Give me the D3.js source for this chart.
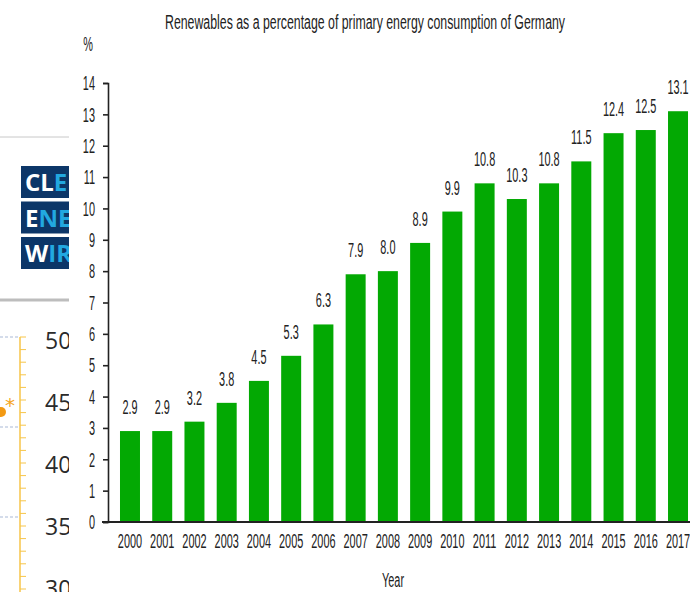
<!DOCTYPE html>
<html>
<head>
<meta charset="utf-8">
<script src="https://cdn.jsdelivr.net/npm/d3@7"></script>
<style>
  html, body { margin: 0; padding: 0; background: #fff; }
  svg { display: block; }
</style>
</head>
<body>
<svg id="chart"></svg>
<script>
var years = ["2000", "2001", "2002", "2003", "2004", "2005", "2006", "2007", "2008",
    "2009", "2010", "2011", "2012", "2013", "2014", "2015", "2016", "2017"];
var shares = [2.9, 2.9, 3.2, 3.8, 4.5, 5.3, 6.3, 7.9, 8.0, 8.9, 9.9, 10.8, 10.3, 10.8, 11.5, 12.4, 12.5, 13.1];
var yTicks = [0, 1, 2, 3, 4, 5, 6, 7, 8, 9, 10, 11, 12, 13, 14];

// pieces of the pictures lying behind the chart (left edge)
var logoRows = [["CL", "E"], ["E", "NE"], ["W", "IR"]];
var behindLabels = ["50", "45", "40", "35", "30"];

var width = 690, height = 592;
var margin = { left: 108, top: 83, bottom: 70 };
var squeeze = "scale(0.52,1)"; // the source font is very condensed
var fs = 21;

var svg = d3.select("#chart").attr("width", width).attr("height", height);

// ---- background fragments
var bg = svg.append("g");
bg.append("line").attr("x1", 0).attr("x2", 69).attr("y1", 137).attr("y2", 137)
    .attr("stroke", "#c8c8c8").attr("stroke-width", 1);
logoRows.forEach(function (r, i) {
    var y0 = 166 + i * 35.5;
    bg.append("rect").attr("x", 21).attr("y", y0).attr("width", 60).attr("height", 32)
        .attr("fill", "#0c3668");
    var t = bg.append("text").attr("x", 25).attr("y", y0 + 25)
        .attr("font-family", "Open Sans, sans-serif").attr("font-weight", "bold")
        .attr("font-size", 24);
    t.append("tspan").attr("fill", "#fff").text(r[0]);
    t.append("tspan").attr("fill", "#22a8e0").text(r[1]);
});
bg.append("line").attr("x1", 0).attr("x2", 69).attr("y1", 300).attr("y2", 300)
    .attr("stroke", "#bdbdbd").attr("stroke-width", 3);

var behindY = d3.scaleLinear().domain([0, 4]).range([340, 588]);
[337, 427, 517].forEach(function (g) {
    bg.append("line").attr("x1", 0).attr("x2", 20).attr("y1", g).attr("y2", g)
        .attr("stroke", "#a9b9d6").attr("stroke-dasharray", "3,2");
});
bg.append("line").attr("x1", 20).attr("x2", 20).attr("y1", 337).attr("y2", height)
    .attr("stroke", "#f7c548").attr("stroke-width", 1.5);
d3.range(337, height, 12.6).forEach(function (t) {
    bg.append("line").attr("x1", 20).attr("x2", 26).attr("y1", t).attr("y2", t)
        .attr("stroke", "#f7c548");
});
bg.append("circle").attr("cx", 1).attr("cy", 412).attr("r", 5).attr("fill", "#f39a13");
bg.append("text").attr("x", 5).attr("y", 412).attr("fill", "#f5a623")
    .attr("font-family", "DejaVu Sans, sans-serif").attr("font-size", 20).text("*");
bg.selectAll(".bl").data(behindLabels).join("text")
    .attr("x", 45).attr("y", function (d, i) { return behindY(i) + 9; })
    .attr("fill", "#2b2b2b").attr("font-family", "Open Sans, sans-serif").attr("font-size", 23)
    .text(function (d) { return d; });

// ---- chart panel
svg.append("rect").attr("x", 69).attr("y", 0).attr("width", width - 69).attr("height", height)
    .attr("fill", "#fff");

var x = d3.scaleBand().domain(years).range([margin.left, 700])
    .paddingInner(0.38).paddingOuter(0.372);
var y = d3.scaleLinear().domain([0, 14]).range([height - margin.bottom, margin.top]);

var font = "Liberation Sans, Arial, sans-serif";

svg.append("text")
    .attr("x", 165).attr("y", 29)
    .attr("font-family", font).attr("font-size", 20).attr("fill", "#222")
    .attr("textLength", 400).attr("lengthAdjust", "spacingAndGlyphs")
    .text("Renewables as a percentage of primary energy consumption of Germany");

svg.append("text")
    .attr("transform", "translate(88,51) " + squeeze)
    .attr("text-anchor", "middle")
    .attr("font-family", font).attr("font-size", fs).attr("fill", "#222")
    .text("%");

svg.selectAll(".bar").data(shares).join("rect")
    .attr("class", "bar")
    .attr("x", function (d, i) { return x(years[i]); })
    .attr("y", function (d) { return y(d); })
    .attr("width", x.bandwidth())
    .attr("height", function (d) { return y(0) - y(d); })
    .attr("fill", "#03a903");

svg.selectAll(".val").data(shares).join("text")
    .attr("class", "val")
    .attr("transform", function (d, i) {
        return "translate(" + (x(years[i]) + x.bandwidth() / 2) + "," + (y(d) - 17) + ") " + squeeze;
    })
    .attr("text-anchor", "middle")
    .attr("font-family", font).attr("font-size", fs).attr("fill", "#222")
    .text(d3.format(".1f"));

// x axis: baseline only, labels under the bars
var xAxis = svg.append("g")
    .attr("transform", "translate(0," + y(0) + ")")
    .call(d3.axisBottom(x).tickSize(0).tickPadding(11));
xAxis.select(".domain").remove();
xAxis.selectAll("text")
    .attr("transform", squeeze)
    .attr("font-family", font).attr("font-size", fs).attr("fill", "#222");
svg.append("line")
    .attr("x1", 102).attr("x2", width).attr("y1", y(0)).attr("y2", y(0))
    .attr("stroke", "#222").attr("stroke-width", 1.8);

var yAxis = svg.append("g")
    .attr("transform", "translate(" + margin.left + ",0)")
    .call(d3.axisLeft(y).tickValues(yTicks).tickSize(5).tickSizeOuter(5));
yAxis.select(".domain").attr("stroke", "#222").attr("stroke-width", 1.6);
yAxis.selectAll(".tick line").attr("stroke", "#222").attr("stroke-width", 1.6);
yAxis.selectAll("text")
    .attr("x", -25)
    .attr("transform", squeeze)
    .attr("font-family", font).attr("font-size", fs).attr("fill", "#222");

svg.append("text")
    .attr("transform", "translate(393,587) " + squeeze)
    .attr("text-anchor", "middle")
    .attr("font-family", font).attr("font-size", fs).attr("fill", "#222")
    .text("Year");
</script>
</body>
</html>
